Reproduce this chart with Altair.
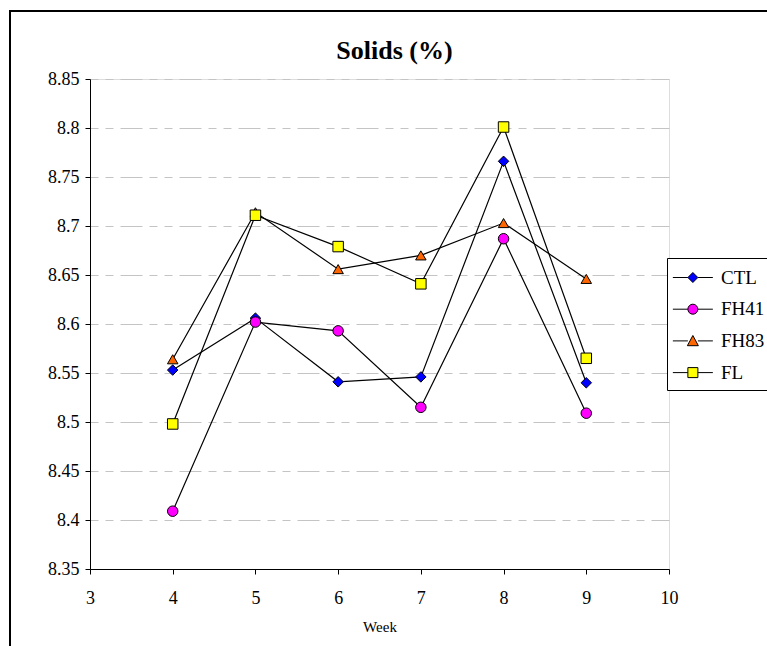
import altair as alt
import pandas as pd

weeks = [4, 5, 6, 7, 8, 9]
series_names = ["CTL", "FH41", "FH83", "FL"]
ctl = [8.553, 8.606, 8.541, 8.546, 8.766, 8.540]
fh41 = [8.409, 8.602, 8.593, 8.515, 8.687, 8.509]
fh83 = [8.564, 8.714, 8.656, 8.670, 8.703, 8.646]
fl = [8.498, 8.711, 8.679, 8.641, 8.801, 8.565]
fill_colors = ["#0000FF", "#FF00FF", "#FF6600", "#FFFF00"]
point_shapes = ["diamond", "circle", "triangle-up", "square"]
x_ticks = [3, 4, 5, 6, 7, 8, 9, 10]
y_ticks = [8.35, 8.4, 8.45, 8.5, 8.55, 8.6, 8.65, 8.7, 8.75, 8.8, 8.85]

rows = []
for name, vals in zip(series_names, [ctl, fh41, fh83, fl]):
    for w, v in zip(weeks, vals):
        rows.append({"Week": w, "Solids": v, "Series": name})
df = pd.DataFrame(rows)

# legend symbols: line segment with the marker in its middle (custom SVG paths)
s = 0.53
L = 1.6667
m = 0.4167
def seg():
    return f"M{s-L:.4f},0L{s-m:.4f},0M{s+m:.4f},0L{s+L:.4f},0"
legend_shapes = [
    seg() + f"M{s-m:.4f},0L{s:.4f},{-m:.4f}L{s+m:.4f},0L{s:.4f},{m:.4f}Z",
    seg() + f"M{s+m:.4f},0A{m},{m} 0 1,1 {s-m:.4f},0A{m},{m} 0 1,1 {s+m:.4f},0Z",
    seg() + f"M{s-0.458:.4f},0.4L{s+0.458:.4f},0.4L{s:.4f},-0.45Z",
    seg() + f"M{s-m:.4f},{-m:.4f}L{s+m:.4f},{-m:.4f}L{s+m:.4f},{m:.4f}L{s-m:.4f},{m:.4f}Z",
]

FONT = "Liberation Serif"

xscale = alt.Scale(domain=[3, 10], nice=False, zero=False)
yscale = alt.Scale(domain=[8.35, 8.85], nice=False, zero=False)

x_enc = alt.X("Week:Q", scale=xscale, axis=alt.Axis(
    values=x_ticks, grid=False, title="Week", tickSize=5, tickColor="black",
    domainColor="black", labelFont=FONT, labelFontSize=18, labelColor="black",
    labelPadding=15, titleFont=FONT, titleFontSize=15, titleFontWeight="normal",
    titleColor="black", titlePadding=12, labelFlush=False))
y_enc = alt.Y("Solids:Q", scale=yscale, axis=alt.Axis(
    values=y_ticks, format=".2~f", grid=True, gridColor="#c4c4c4",
    gridDash=[8, 7, 8, 7, 22, 7], gridWidth=1, tickSize=5, tickColor="black",
    domainColor="black", labelFont=FONT, labelFontSize=18, labelColor="black",
    labelPadding=6, title=None))

lines = alt.Chart(df).mark_line(color="black", strokeWidth=1.2).encode(
    x=x_enc, y=y_enc, detail="Series:N", order="Week:Q")

point_layers = []
for name, col, shp in zip(series_names, fill_colors, point_shapes):
    point_layers.append(
        alt.Chart(df).transform_filter(alt.datum.Series == name).mark_point(
            filled=True, stroke="black", strokeWidth=1, size=110, opacity=1,
            fill=col, shape=shp).encode(x=x_enc, y=y_enc)
    )

legend_props = dict(
    title=None, orient="none", legendX=577, legendY=179,
    strokeColor="black", fillColor="white", padding=7,
    symbolSize=576, symbolStrokeWidth=1,
    labelFont=FONT, labelFontSize=19, labelColor="black",
    labelOffset=22, rowPadding=8.7, labelLimit=200)

legend_layer = alt.Chart(df).transform_filter("datum.Week > 100").mark_point(
    filled=True, strokeWidth=1, opacity=1).encode(
    x=x_enc, y=y_enc,
    fill=alt.Fill("Series:N", scale=alt.Scale(domain=series_names, range=fill_colors),
                  legend=alt.Legend(**legend_props)),
    shape=alt.Shape("Series:N", scale=alt.Scale(domain=series_names, range=legend_shapes),
                    legend=alt.Legend(**legend_props)),
    stroke=alt.Stroke("Series:N", scale=alt.Scale(domain=series_names, range=["black"] * 4),
                      legend=alt.Legend(**legend_props)),
)

frame = alt.Chart(pd.DataFrame({"a": [0]})).mark_rect(
    fill=None, stroke="black", strokeWidth=2).encode(
    x=alt.value(-80), x2=alt.value(700), y=alt.value(-68), y2=alt.value(600))

chart = alt.layer(frame, lines, *point_layers, legend_layer).properties(
    width=579, height=490,
    autosize=alt.AutoSizeParams(type="none"),
    padding={"left": 90, "top": 79, "right": 98, "bottom": 77},
    title=alt.TitleParams("Solids (%)", font=FONT, fontSize=26, fontWeight="bold",
                          color="black", dx=15, dy=97, offset=22, frame="group",
                          baseline="alphabetic", anchor="middle"),
).configure_view(stroke=None).configure(background="white")

chart.save("out.html", embed_options={"renderer": "svg", "actions": False})
